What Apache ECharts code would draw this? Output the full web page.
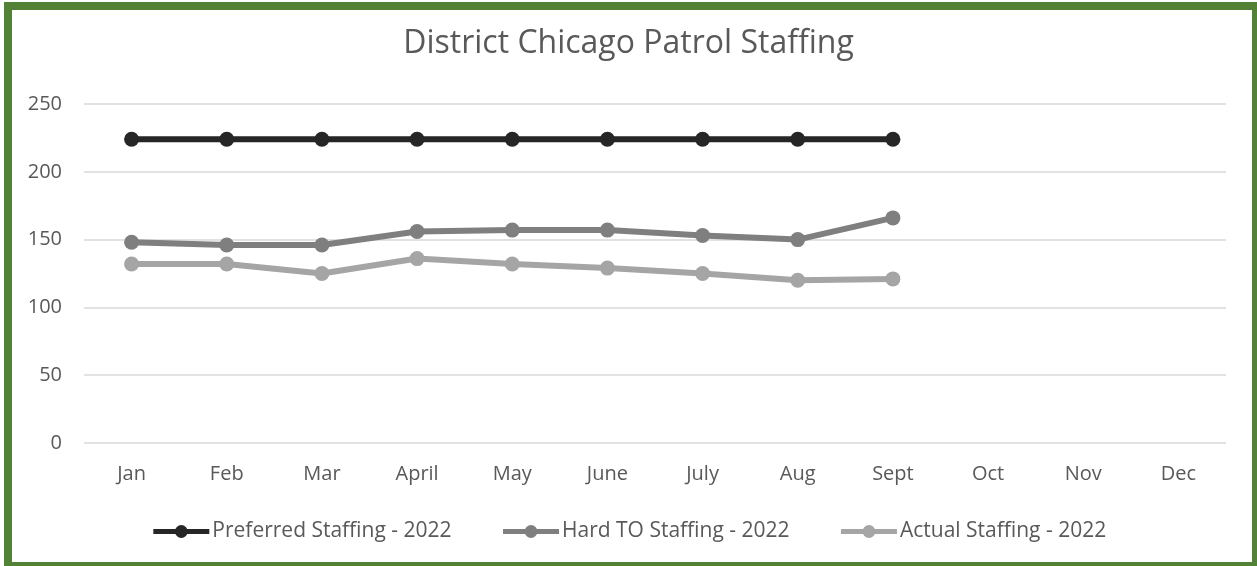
<!DOCTYPE html>
<html><head><meta charset="utf-8">
<script src="https://cdn.jsdelivr.net/npm/echarts@6/dist/echarts.min.js"></script>
<style>html,body{margin:0;padding:0;background:#fff;overflow:hidden}
#c{position:absolute;left:0;top:0;width:1257px;height:566px}
.b{position:absolute;background:#538135;pointer-events:none}</style>
</head><body><div id="c"></div>
<div class="b" style="left:4px;top:2px;width:8px;height:564px"></div>
<div class="b" style="left:4px;top:2px;width:1253px;height:8px"></div>
<div class="b" style="left:1252px;top:2px;width:5px;height:564px"></div>
<div class="b" style="left:4px;top:562px;width:1253px;height:4px"></div>
<script>
const categories = ['Jan','Feb','Mar','April','May','June','July','Aug','Sept','Oct','Nov','Dec'];
const preferred = [224,224,224,224,224,224,224,224,224];
const hardTO = [148,146,146,156,157,157,153,150,166];
const actual = [132,132,125,136,132,129,125,120,121];
const yTicks = [0,50,100,150,200,250];
const names = ['Preferred Staffing - 2022','Hard TO Staffing - 2022','Actual Staffing - 2022'];
const colors = ['#262626','#7f7f7f','#a5a5a5'];
const font = 'Open Sans, Liberation Sans, sans-serif';
const chart = echarts.init(document.getElementById('c'));
function s(name, data, color){
  return {name, type:'line', data, symbol:'circle', symbolSize:15,
    lineStyle:{width:6,color}, itemStyle:{color}, z:3};
}
chart.setOption({
  animation:false,
  title:{text:'District Chicago Patrol Staffing', left:'center', top:23,
    textStyle:{fontFamily:font,fontSize:32,fontWeight:'normal',color:'#595959'}},
  grid:{left:84,right:31,top:104,bottom:123},
  legend:{top:516,left:'center',itemWidth:56,itemHeight:16,itemGap:49,
    lineStyle:{width:5},
    textStyle:{fontFamily:font,fontSize:21,color:'#595959',padding:[0,0,0,-2]}, data:names},
  xAxis:{type:'category',data:categories,boundaryGap:true,
    axisLine:{show:false},axisTick:{show:false},
    axisLabel:{fontFamily:font,fontSize:20,color:'#595959',margin:21}},
  yAxis:{type:'value',min:yTicks[0],max:yTicks[yTicks.length-1],interval:50,
    axisLine:{show:false},axisTick:{show:false},
    axisLabel:{fontFamily:font,fontSize:20,color:'#595959',margin:22},
    splitLine:{lineStyle:{color:'#d9d9d9',width:1.5}}},
  series:[s(names[0],preferred,colors[0]),s(names[1],hardTO,colors[1]),s(names[2],actual,colors[2])]
});
</script></body></html>
